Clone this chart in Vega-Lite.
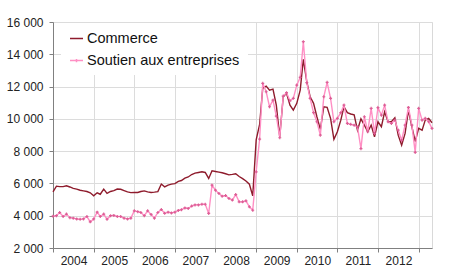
{
  "$schema": "https://vega.github.io/schema/vega-lite/v6.json",
  "width": 379,
  "height": 226,
  "autosize": {"type": "none"},
  "padding": {"left": 53, "top": 22, "right": 18, "bottom": 31},
  "background": "white",
  "config": {
    "view": {"stroke": "#d9d9d9", "strokeWidth": 1},
    "axis": {
      "labelFont": "Liberation Sans",
      "labelFontSize": 12,
      "labelColor": "#222222",
      "domainColor": "#808080",
      "tickColor": "#808080",
      "gridColor": "#dcdcdc",
      "tickSize": 4,
      "title": null
    }
  },
  "data": {
    "values": [
      {"d":"2004-01-01","c":5480,"s":3970},{"d":"2004-02-01","c":5830,"s":4000},{"d":"2004-03-01","c":5800,"s":4200},{"d":"2004-04-01","c":5800,"s":3950},{"d":"2004-05-01","c":5850,"s":4100},{"d":"2004-06-01","c":5780,"s":3880},{"d":"2004-07-01","c":5690,"s":3850},{"d":"2004-08-01","c":5650,"s":3800},{"d":"2004-09-01","c":5580,"s":3780},{"d":"2004-10-01","c":5540,"s":3800},{"d":"2004-11-01","c":5500,"s":3950},{"d":"2004-12-01","c":5420,"s":3620},
      {"d":"2005-01-01","c":5230,"s":3800},{"d":"2005-02-01","c":5420,"s":4220},{"d":"2005-03-01","c":5330,"s":3950},{"d":"2005-04-01","c":5650,"s":4100},{"d":"2005-05-01","c":5380,"s":3780},{"d":"2005-06-01","c":5500,"s":4000},{"d":"2005-07-01","c":5550,"s":4020},{"d":"2005-08-01","c":5650,"s":3950},{"d":"2005-09-01","c":5640,"s":3950},{"d":"2005-10-01","c":5560,"s":3850},{"d":"2005-11-01","c":5480,"s":3800},{"d":"2005-12-01","c":5430,"s":3850},
      {"d":"2006-01-01","c":5440,"s":4300},{"d":"2006-02-01","c":5440,"s":4250},{"d":"2006-03-01","c":5500,"s":4200},{"d":"2006-04-01","c":5540,"s":4000},{"d":"2006-05-01","c":5480,"s":4300},{"d":"2006-06-01","c":5440,"s":4080},{"d":"2006-07-01","c":5460,"s":3850},{"d":"2006-08-01","c":5490,"s":4200},{"d":"2006-09-01","c":5960,"s":4380},{"d":"2006-10-01","c":5790,"s":4150},{"d":"2006-11-01","c":5900,"s":4220},{"d":"2006-12-01","c":5960,"s":4170},
      {"d":"2007-01-01","c":5990,"s":4220},{"d":"2007-02-01","c":6130,"s":4330},{"d":"2007-03-01","c":6180,"s":4370},{"d":"2007-04-01","c":6330,"s":4480},{"d":"2007-05-01","c":6400,"s":4450},{"d":"2007-06-01","c":6550,"s":4600},{"d":"2007-07-01","c":6640,"s":4670},{"d":"2007-08-01","c":6680,"s":4670},{"d":"2007-09-01","c":6720,"s":4710},{"d":"2007-10-01","c":6680,"s":4710},{"d":"2007-11-01","c":6310,"s":4140},{"d":"2007-12-01","c":6780,"s":5890},
      {"d":"2008-01-01","c":6740,"s":5580},{"d":"2008-02-01","c":6700,"s":5380},{"d":"2008-03-01","c":6660,"s":5210},{"d":"2008-04-01","c":6600,"s":5250},{"d":"2008-05-01","c":6530,"s":5070},{"d":"2008-06-01","c":6560,"s":4970},{"d":"2008-07-01","c":6600,"s":5310},{"d":"2008-08-01","c":6430,"s":4860},{"d":"2008-09-01","c":6300,"s":4860},{"d":"2008-10-01","c":6150,"s":4920},{"d":"2008-11-01","c":5950,"s":4550},{"d":"2008-12-01","c":5230,"s":4340},
      {"d":"2009-01-01","c":8700,"s":6720},{"d":"2009-02-01","c":9650,"s":8750},{"d":"2009-03-01","c":11900,"s":12200},{"d":"2009-04-01","c":12030,"s":11680},{"d":"2009-05-01","c":11780,"s":10750},{"d":"2009-06-01","c":11840,"s":11160},{"d":"2009-07-01","c":10850,"s":10170},{"d":"2009-08-01","c":8890,"s":8830},{"d":"2009-09-01","c":11370,"s":11410},{"d":"2009-10-01","c":11580,"s":11620},{"d":"2009-11-01","c":10850,"s":11120},{"d":"2009-12-01","c":10540,"s":11270},
      {"d":"2010-01-01","c":10960,"s":12090},{"d":"2010-02-01","c":11780,"s":12570},{"d":"2010-03-01","c":13690,"s":14780},{"d":"2010-04-01","c":12300,"s":12240},{"d":"2010-05-01","c":11370,"s":11270},{"d":"2010-06-01","c":10960,"s":10380},{"d":"2010-07-01","c":10130,"s":9820},{"d":"2010-08-01","c":9350,"s":8990},{"d":"2010-09-01","c":10750,"s":11370},{"d":"2010-10-01","c":10710,"s":12260},{"d":"2010-11-01","c":10030,"s":11270},{"d":"2010-12-01","c":8730,"s":9820},
      {"d":"2011-01-01","c":9200,"s":10030},{"d":"2011-02-01","c":9920,"s":10380},{"d":"2011-03-01","c":10750,"s":10850},{"d":"2011-04-01","c":10380,"s":9720},{"d":"2011-05-01","c":10300,"s":9660},{"d":"2011-06-01","c":10250,"s":9610},{"d":"2011-07-01","c":9300,"s":9500},{"d":"2011-08-01","c":10000,"s":8150},{"d":"2011-09-01","c":9610,"s":10130},{"d":"2011-10-01","c":9200,"s":9200},{"d":"2011-11-01","c":9610,"s":10650},{"d":"2011-12-01","c":8890,"s":9100},
      {"d":"2012-01-01","c":9820,"s":10690},{"d":"2012-02-01","c":9510,"s":10230},{"d":"2012-03-01","c":10440,"s":10850},{"d":"2012-04-01","c":9820,"s":9820},{"d":"2012-05-01","c":9820,"s":9720},{"d":"2012-06-01","c":10070,"s":9920},{"d":"2012-07-01","c":8990,"s":9300},{"d":"2012-08-01","c":8370,"s":8680},{"d":"2012-09-01","c":9100,"s":9610},{"d":"2012-10-01","c":10540,"s":10710},{"d":"2012-11-01","c":9510,"s":9610},{"d":"2012-12-01","c":8600,"s":7920},
      {"d":"2013-01-01","c":9410,"s":10650},{"d":"2013-02-01","c":9300,"s":9920},{"d":"2013-03-01","c":9920,"s":10030},{"d":"2013-04-01","c":10030,"s":9820},{"d":"2013-05-01","c":9760,"s":9410}
    ]
  },
  "transform": [
    {"fold": ["c", "s"], "as": ["k", "v"]},
    {"lookup": "k", "from": {"data": {"values": [{"k": "c", "serie": "Commerce"}, {"k": "s", "serie": "Soutien aux entreprises"}]}, "key": "k", "fields": ["serie"]}}
  ],
  "encoding": {
    "x": {
      "field": "d",
      "type": "temporal",
      "scale": {"type": "utc", "domain": [{"year": 2004, "month": 1, "date": 1, "utc": true}, {"year": 2013, "month": 5, "date": 1, "utc": true}]},
      "axis": {
        "values": [
          {"year": 2004, "month": 1, "date": 1, "utc": true},
          {"year": 2005, "month": 1, "date": 1, "utc": true},
          {"year": 2006, "month": 1, "date": 1, "utc": true},
          {"year": 2007, "month": 1, "date": 1, "utc": true},
          {"year": 2008, "month": 1, "date": 1, "utc": true},
          {"year": 2009, "month": 1, "date": 1, "utc": true},
          {"year": 2010, "month": 1, "date": 1, "utc": true},
          {"year": 2011, "month": 1, "date": 1, "utc": true},
          {"year": 2012, "month": 1, "date": 1, "utc": true},
          {"year": 2013, "month": 1, "date": 1, "utc": true}
        ],
        "labelExpr": "utcFormat(datum.value, '%Y') == '2013' ? '' : utcFormat(datum.value, '%Y')",
        "labelOffset": 20.5,
        "labelPadding": 3,
        "labelFlush": false,
        "labelOverlap": false,
        "labelBound": false,
        "grid": true
      }
    },
    "y": {
      "field": "v",
      "type": "quantitative",
      "scale": {"domain": [2000, 16000], "nice": false, "zero": false},
      "axis": {
        "values": [2000, 4000, 6000, 8000, 10000, 12000, 14000, 16000],
        "labelExpr": "replace(format(datum.value, ',d'), ',', ' ')",
        "labelPadding": 6,
        "grid": true
      }
    }
  },
  "layer": [
    {
      "mark": {"type": "line", "strokeWidth": 1.4},
      "encoding": {
        "color": {
          "field": "serie",
          "type": "nominal",
          "scale": {"domain": ["Commerce", "Soutien aux entreprises"], "range": ["#8e1b2c", "#ff8fc4"]},
          "legend": {
            "title": null,
            "orient": "none",
            "legendX": 8,
            "legendY": 1,
            "fillColor": "white",
            "padding": 8,
            "labelFont": "Liberation Sans",
            "labelFontSize": 14.5,
            "labelColor": "#111111",
            "labelLimit": 300,
            "labelOffset": 3,
            "rowPadding": 7,
            "symbolType": "stroke",
            "symbolSize": 169,
            "symbolStrokeWidth": 1.5,
            "encode": {
              "symbols": {
                "update": {
                  "shape": {"signal": "datum.value === 'Commerce' ? 'stroke' : 'M-1,0H1M0,-0.25V0.25M-0.25,0H0.25'"}
                }
              }
            }
          }
        }
      }
    },
    {
      "transform": [{"filter": "datum.k == 's'"}],
      "mark": {"type": "point", "shape": "cross", "filled": true, "size": 9, "color": "#d9558f", "opacity": 0.9}
    }
  ]
}
